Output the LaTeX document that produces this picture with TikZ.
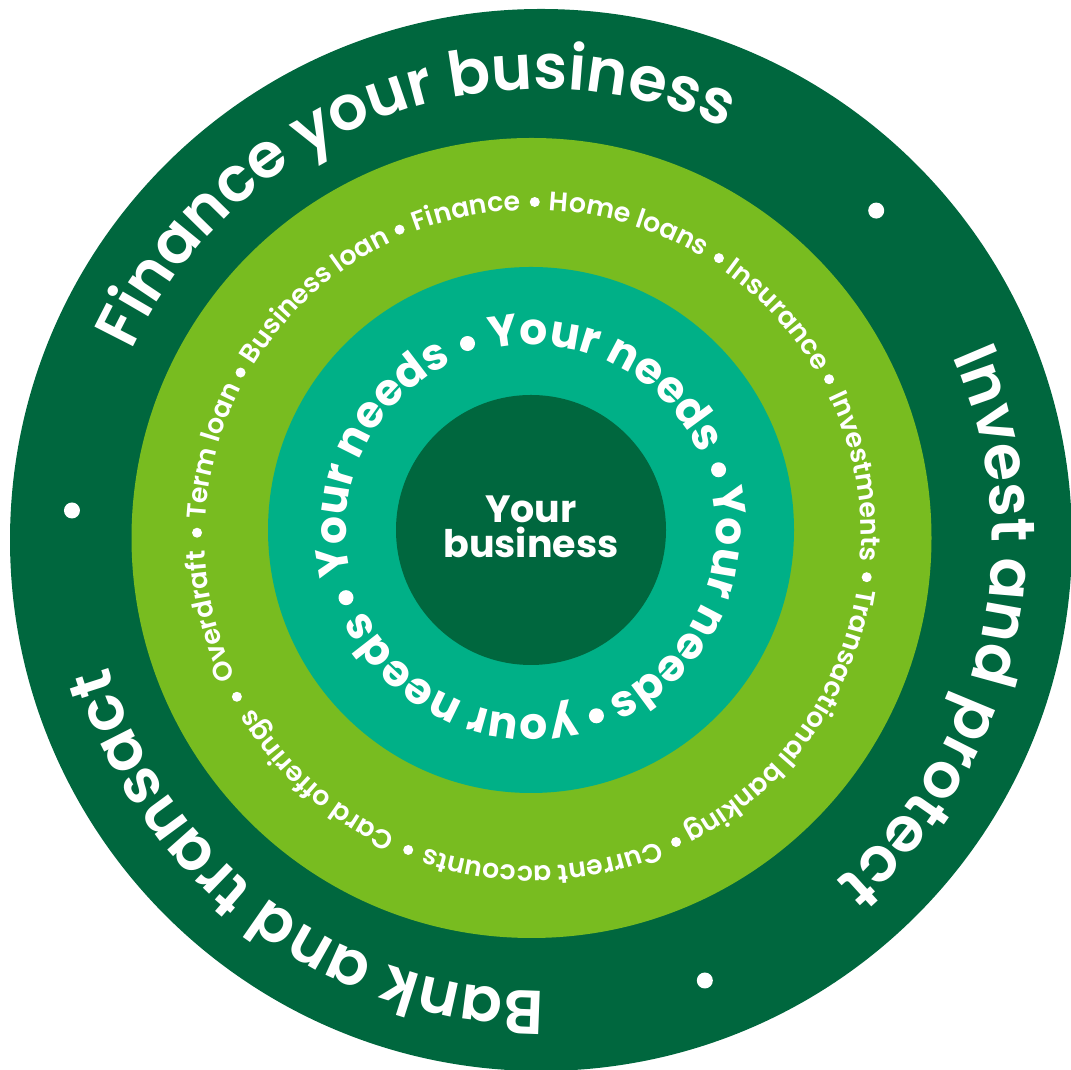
\documentclass[tikz,border=0pt]{standalone}
\usepackage{fontspec}
\setmainfont{Poppins}[UprightFont=* SemiBold, BoldFont=* Bold]
\usetikzlibrary{decorations.text,calc}
\definecolor{dkgreen}{RGB}{0,103,62}
\definecolor{ltgreen}{RGB}{120,188,32}
\definecolor{tealg}{RGB}{0,176,135}
\newcommand\fouter{\fontsize{62}{62}\selectfont}
\newcommand\fneeds{\fontsize{44}{44}\selectfont\bfseries}
\newcommand\fsmall{\fontsize{26.8}{26.8}\selectfont}
\newcommand\fcenter{\fontsize{38}{35}\selectfont\bfseries}
\begin{document}
\begin{tikzpicture}[x=1pt,y=1pt,
  disc/.style={circle, inner sep=0pt, outer sep=0pt, draw=none},
  wdot/.style={circle, fill=white, inner sep=0pt, draw=none},
  arctext/.style={decorate, decoration={text along path, text align=center, text color=white, text/.expanded={#1}}}
  ]
\useasboundingbox (0,0) rectangle (1071,1070);
% discs
\node[disc, fill=dkgreen, minimum size=1062pt] (outer) at (541,530) {};
\node[disc, fill=ltgreen, minimum size=800pt] (ring) at (531.5,532) {};
\node[disc, fill=tealg, minimum size=526pt] (needs) at (531,540) {};
\node[disc, fill=dkgreen, minimum size=270pt] (core) at (531,540) {};
\node[text=white, align=center, font=\fcenter, inner sep=0pt] (bus) at (531,543) {Your\\business};
% centres
\coordinate (O) at (541,530);
\coordinate (L) at (533,532);
\coordinate (T) at (531,540);
% outer ring texts
\foreach \a/\b/\lbl in {176.4/44.5/Finance your business, 44.5/-69.6/Invest and protect, -69.6/-183.6/Bank and transact}{
  \path[arctext={|\noexpand\fouter|\lbl}] ($(O)+(\a:451)$) arc[start angle=\a, end angle=\b, radius=451];
}
\foreach \a [count=\i] in {176.4, 44.5, -69.6}{
  \node[wdot, minimum size=16pt] (od\i) at ($(O)+(\a:470)$) {};
}
% light green ring texts
\foreach \a/\b/\lbl in {179.1/150.5/Term loan, 150.5/113.4/Business loan, 113.4/89.7/Finance, 89.7/56.4/Home loans, 56.4/28.2/Insurance, 28.2/-6.7/Investments, -6.7/-64.8/Transactional banking, -64.8/-111.8/Current accounts, -111.8/-151.8/Card offerings, -151.8/-180.9/Overdraft}{
  \path[arctext={|\noexpand\fsmall|\lbl}] ($(L)+(\a:328)$) arc[start angle=\a, end angle=\b, radius=328];
}
\foreach \a [count=\i] in {179.1, 150.5, 113.4, 89.7, 56.4, 28.2, -6.7, -64.8, -111.8, -151.8}{
  \node[wdot, minimum size=10pt] (ld\i) at ($(L)+(\a:336)$) {};
}
% teal ring texts
\foreach \a/\b/\lbl in {108.8/17.8/Your needs, 17.8/-70.6/Your needs, -70.6/-159.9/your needs, 200.1/108.8/Your needs}{
  \path[arctext={|\noexpand\fneeds|\lbl}] ($(T)+(\a:185)$) arc[start angle=\a, end angle=\b, radius=185];
}
\foreach \a [count=\i] in {108.8, 17.8, -70.6, -159.9}{
  \node[wdot, minimum size=15pt] (td\i) at ($(T)+(\a:197)$) {};
}
\end{tikzpicture}
\end{document}
